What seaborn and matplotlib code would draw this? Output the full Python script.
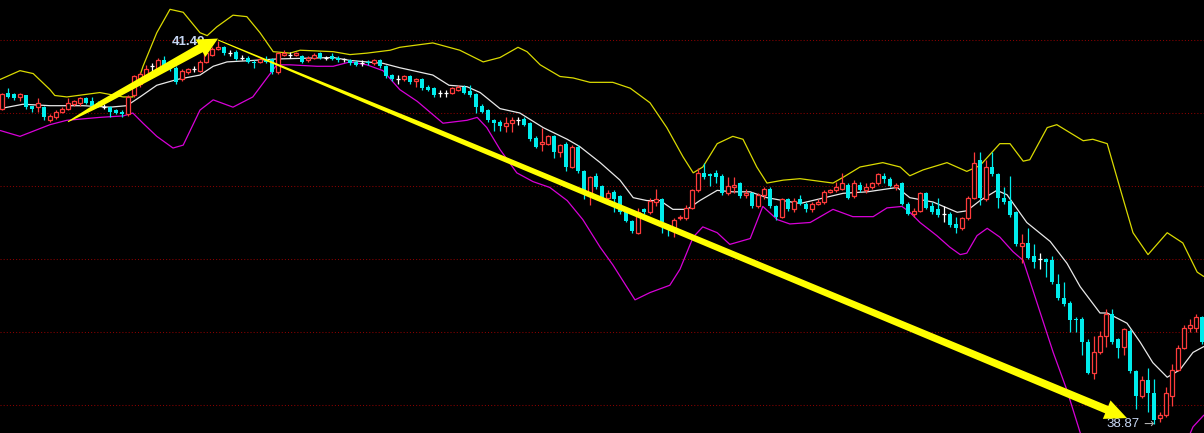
import numpy as np
import pandas as pd
import matplotlib
matplotlib.use("Agg")
import matplotlib.pyplot as plt
from matplotlib.patches import Polygon
from matplotlib.transforms import IdentityTransform
import seaborn as sns

# Daily candles (price units)
opens = [41.03, 41.14, 41.13, 41.11, 41.12, 41.05, 41.04, 41.04, 40.95, 40.97,
         41.01, 41.03, 41.06, 41.07, 41.10, 41.08, 41.07, 41.04, 41.04, 41.02,
         41.01, 40.99, 41.12, 41.20, 41.25, 41.32, 41.29, 41.36, 41.34, 41.31,
         41.23, 41.28, 41.30, 41.29, 41.35, 41.40, 41.44, 41.45, 41.41, 41.42,
         41.38, 41.38, 41.35, 41.35, 41.37, 41.37, 41.28, 41.40, 41.40, 41.40,
         41.39, 41.36, 41.38, 41.41, 41.38, 41.39, 41.38, 41.37, 41.36, 41.35,
         41.34, 41.35, 41.34, 41.36, 41.32, 41.26, 41.23, 41.23, 41.25, 41.22,
         41.23, 41.18, 41.17, 41.14, 41.14, 41.14, 41.16, 41.18, 41.15, 41.13,
         41.05, 41.02, 40.95, 40.94, 40.91, 40.93, 40.95, 40.96, 40.93, 40.83,
         40.79, 40.79, 40.84, 40.73, 40.79, 40.63, 40.77, 40.60, 40.45, 40.57,
         40.50, 40.42, 40.46, 40.43, 40.32, 40.26, 40.18, 40.34, 40.32, 40.39,
         40.41, 40.23, 40.20, 40.28, 40.28, 40.35, 40.47, 40.59, 40.58, 40.59,
         40.57, 40.45, 40.49, 40.52, 40.44, 40.45, 40.36, 40.44, 40.48, 40.36,
         40.29, 40.41, 40.34, 40.41, 40.38, 40.34, 40.38, 40.39, 40.46, 40.47,
         40.48, 40.51, 40.43, 40.51, 40.47, 40.49, 40.52, 40.57, 40.55, 40.49,
         40.52, 40.38, 40.31, 40.33, 40.45, 40.36, 40.34, 40.31, 40.31, 40.24,
         40.21, 40.28, 40.42, 40.68, 40.41, 40.63, 40.58, 40.42, 40.40, 40.32,
         40.09, 40.11, 40.02, 40.00, 40.00, 39.99, 39.83, 39.73, 39.70, 39.59,
         39.59, 39.43, 39.22, 39.36, 39.47, 39.62, 39.45, 39.40, 39.51, 39.23,
         39.06, 39.17, 39.08, 38.91, 38.93, 39.06, 39.24, 39.39, 39.53, 39.53,
         39.60]
highs = [41.14, 41.17, 41.14, 41.14, 41.12, 41.05, 41.10, 41.05, 40.99, 41.02,
         41.04, 41.10, 41.09, 41.11, 41.11, 41.11, 41.08, 41.06, 41.05, 41.03,
         41.02, 41.12, 41.26, 41.28, 41.33, 41.34, 41.38, 41.39, 41.35, 41.32,
         41.30, 41.31, 41.32, 41.36, 41.42, 41.45, 41.49, 41.46, 41.43, 41.43,
         41.40, 41.39, 41.36, 41.38, 41.39, 41.38, 41.42, 41.43, 41.42, 41.42,
         41.40, 41.39, 41.41, 41.42, 41.39, 41.41, 41.39, 41.38, 41.37, 41.36,
         41.36, 41.36, 41.37, 41.37, 41.33, 41.27, 41.26, 41.26, 41.26, 41.24,
         41.24, 41.19, 41.18, 41.16, 41.16, 41.18, 41.19, 41.19, 41.19, 41.14,
         41.06, 41.03, 40.96, 40.95, 40.97, 40.97, 40.97, 40.97, 40.94, 40.84,
         40.90, 40.85, 40.85, 40.79, 40.80, 40.78, 40.78, 40.61, 40.57, 40.59,
         40.51, 40.47, 40.47, 40.44, 40.33, 40.27, 40.35, 40.35, 40.42, 40.48,
         40.42, 40.24, 40.28, 40.30, 40.37, 40.48, 40.62, 40.66, 40.59, 40.61,
         40.58, 40.56, 40.56, 40.53, 40.48, 40.46, 40.45, 40.49, 40.49, 40.37,
         40.42, 40.42, 40.42, 40.44, 40.39, 40.39, 40.41, 40.47, 40.48, 40.53,
         40.59, 40.52, 40.54, 40.53, 40.52, 40.53, 40.59, 40.59, 40.56, 40.52,
         40.53, 40.39, 40.35, 40.46, 40.46, 40.39, 40.42, 40.36, 40.32, 40.29,
         40.29, 40.43, 40.73, 40.73, 40.68, 40.73, 40.59, 40.49, 40.57, 40.33,
         40.17, 40.21, 40.10, 40.04, 40.01, 40.02, 39.90, 39.84, 39.71, 39.60,
         39.60, 39.45, 39.47, 39.51, 39.66, 39.66, 39.46, 39.53, 39.52, 39.24,
         39.20, 39.25, 39.18, 38.95, 39.12, 39.28, 39.41, 39.55, 39.59, 39.62,
         39.61]
lows = [41.02, 41.10, 41.09, 41.08, 41.03, 41.01, 41.01, 40.95, 40.94, 40.96,
        41.00, 41.02, 41.05, 41.05, 41.06, 41.04, 41.04, 41.03, 40.97, 40.99,
        40.97, 40.98, 41.11, 41.18, 41.24, 41.29, 41.28, 41.31, 41.29, 41.20,
        41.22, 41.27, 41.28, 41.28, 41.34, 41.39, 41.43, 41.40, 41.39, 41.36,
        41.36, 41.34, 41.31, 41.34, 41.34, 41.27, 41.27, 41.39, 41.38, 41.39,
        41.34, 41.35, 41.37, 41.37, 41.36, 41.36, 41.35, 41.35, 41.33, 41.32,
        41.32, 41.33, 41.33, 41.31, 41.24, 41.22, 41.20, 41.22, 41.20, 41.18,
        41.16, 41.15, 41.11, 41.11, 41.11, 41.13, 41.15, 41.13, 41.11, 41.00,
        41.00, 40.94, 40.88, 40.88, 40.87, 40.87, 40.92, 40.91, 40.81, 40.76,
        40.74, 40.78, 40.69, 40.70, 40.60, 40.62, 40.59, 40.41, 40.37, 40.48,
        40.41, 40.40, 40.32, 40.31, 40.25, 40.18, 40.17, 40.31, 40.31, 40.36,
        40.18, 40.16, 40.15, 40.27, 40.27, 40.34, 40.46, 40.55, 40.50, 40.52,
        40.44, 40.44, 40.45, 40.42, 40.42, 40.35, 40.35, 40.41, 40.35, 40.27,
        40.28, 40.33, 40.32, 40.37, 40.32, 40.32, 40.37, 40.38, 40.45, 40.46,
        40.47, 40.41, 40.42, 40.46, 40.45, 40.48, 40.51, 40.52, 40.49, 40.47,
        40.37, 40.30, 40.29, 40.32, 40.34, 40.31, 40.29, 40.25, 40.22, 40.18,
        40.20, 40.27, 40.41, 40.37, 40.40, 40.57, 40.35, 40.38, 40.29, 40.09,
        39.97, 40.00, 39.94, 39.93, 39.88, 39.83, 39.72, 39.68, 39.50, 39.50,
        39.34, 39.21, 39.18, 39.35, 39.40, 39.42, 39.32, 39.34, 39.22, 38.97,
        39.05, 38.95, 38.87, 38.88, 38.92, 38.99, 39.23, 39.38, 39.50, 39.50,
        39.42]
closes = [41.13, 41.11, 41.10, 41.13, 41.04, 41.03, 41.07, 40.97, 40.98, 41.01,
          41.03, 41.07, 41.08, 41.10, 41.07, 41.05, 41.05, 41.04, 41.01, 41.00,
          40.99, 41.11, 41.25, 41.27, 41.30, 41.32, 41.36, 41.32, 41.30, 41.21,
          41.29, 41.30, 41.30, 41.35, 41.41, 41.44, 41.45, 41.41, 41.41, 41.37,
          41.38, 41.35, 41.34, 41.37, 41.35, 41.28, 41.41, 41.41, 41.40, 41.41,
          41.35, 41.38, 41.40, 41.38, 41.38, 41.37, 41.36, 41.37, 41.34, 41.33,
          41.34, 41.34, 41.36, 41.32, 41.25, 41.23, 41.23, 41.25, 41.21, 41.23,
          41.17, 41.16, 41.12, 41.14, 41.14, 41.17, 41.18, 41.14, 41.12, 41.04,
          41.01, 40.95, 40.93, 40.91, 40.93, 40.95, 40.95, 40.92, 40.82, 40.77,
          40.80, 40.84, 40.73, 40.78, 40.63, 40.77, 40.60, 40.45, 40.56, 40.49,
          40.42, 40.45, 40.41, 40.32, 40.26, 40.19, 40.32, 40.32, 40.40, 40.41,
          40.25, 40.21, 40.27, 40.29, 40.35, 40.47, 40.59, 40.56, 40.57, 40.56,
          40.45, 40.50, 40.51, 40.43, 40.45, 40.36, 40.44, 40.48, 40.36, 40.29,
          40.41, 40.34, 40.40, 40.38, 40.34, 40.38, 40.39, 40.46, 40.47, 40.49,
          40.52, 40.42, 40.52, 40.47, 40.49, 40.52, 40.58, 40.55, 40.50, 40.51,
          40.38, 40.31, 40.33, 40.45, 40.35, 40.32, 40.30, 40.31, 40.23, 40.21,
          40.28, 40.42, 40.66, 40.42, 40.63, 40.58, 40.42, 40.39, 40.30, 40.10,
          40.11, 40.01, 39.98, 40.00, 39.98, 39.84, 39.73, 39.69, 39.58, 39.58,
          39.43, 39.22, 39.36, 39.47, 39.62, 39.43, 39.39, 39.52, 39.23, 39.06,
          39.17, 39.08, 38.90, 38.93, 39.08, 39.24, 39.39, 39.53, 39.55, 39.60,
          39.43]

# Bollinger bands: (candle position, price)
upper_band = [(-0.3, 41.23), (3.0, 41.29), (5.2, 41.27), (8.0, 41.16), (8.8, 41.12),
              (10.8, 41.11), (16.3, 41.14), (20.2, 41.11), (21.8, 41.11), (23.5, 41.32),
              (25.8, 41.55), (28.0, 41.71), (30.2, 41.69), (33.0, 41.55), (34.2, 41.53),
              (35.8, 41.59), (38.5, 41.67), (40.8, 41.66), (43.0, 41.55), (45.2, 41.42),
              (48.0, 41.41), (49.7, 41.43), (55.2, 41.42), (58.0, 41.40), (60.8, 41.41),
              (64.7, 41.43), (66.3, 41.45), (71.8, 41.48), (76.3, 41.43), (80.2, 41.35),
              (83.0, 41.38), (86.0, 41.45), (87.5, 41.42), (89.7, 41.33), (93.0, 41.25),
              (95.2, 41.24), (98.0, 41.21), (101.8, 41.21), (104.7, 41.17), (108.0, 41.07),
              (110.8, 40.90), (113.5, 40.70), (115.2, 40.59), (116.8, 40.63), (119.2, 40.79),
              (121.8, 40.84), (123.5, 40.82), (125.8, 40.63), (127.5, 40.52), (130.2, 40.54),
              (133.0, 40.55), (138.5, 40.52), (140.2, 40.56), (143.0, 40.63), (146.8, 40.66),
              (149.7, 40.63), (151.3, 40.57), (153.5, 40.61), (157.5, 40.66), (160.8, 40.60),
              (163.0, 40.64), (166.3, 40.79), (168.0, 40.79), (170.2, 40.67), (171.3, 40.68),
              (174.2, 40.90), (175.8, 40.92), (180.2, 40.81), (181.8, 40.82), (184.2, 40.79),
              (186.3, 40.49), (188.5, 40.18), (191.0, 40.03), (194.2, 40.18), (196.8, 40.11),
              (199.2, 39.91), (200.3, 39.88)]
middle_band = [(-0.3, 41.03), (3.5, 41.06), (8.0, 41.05), (13.5, 41.05), (18.0, 41.04),
               (20.8, 41.05), (23.0, 41.11), (25.8, 41.19), (29.2, 41.23), (33.0, 41.26),
               (35.2, 41.32), (37.5, 41.35), (41.8, 41.36), (45.8, 41.37), (55.2, 41.38),
               (58.0, 41.36), (63.5, 41.34), (66.3, 41.31), (71.8, 41.26), (74.5, 41.19),
               (77.5, 41.18), (79.7, 41.14), (83.0, 41.03), (86.3, 41.00), (90.2, 40.90),
               (94.2, 40.82), (96.3, 40.77), (99.7, 40.66), (103.0, 40.54), (105.2, 40.42),
               (107.5, 40.40), (109.7, 40.40), (111.8, 40.34), (114.2, 40.34), (116.3, 40.40),
               (119.2, 40.47), (121.8, 40.46), (124.7, 40.46), (127.5, 40.42), (130.2, 40.40),
               (133.0, 40.38), (140.2, 40.45), (144.2, 40.46), (149.2, 40.49), (151.3, 40.42),
               (155.2, 40.39), (159.2, 40.32), (160.8, 40.33), (163.0, 40.40), (165.8, 40.47),
               (167.5, 40.44), (170.8, 40.25), (174.7, 40.12), (177.5, 39.97), (179.7, 39.81),
               (183.0, 39.63), (184.2, 39.63), (187.5, 39.56), (189.7, 39.43), (191.8, 39.29),
               (194.2, 39.19), (196.3, 39.24), (198.5, 39.36), (200.3, 39.40)]
lower_band = [(-0.3, 40.88), (3.0, 40.84), (8.0, 40.92), (10.8, 40.95), (16.3, 40.97),
              (20.2, 40.98), (21.8, 41.00), (23.5, 40.93), (25.8, 40.84), (28.5, 40.76),
              (30.2, 40.78), (33.0, 41.02), (35.2, 41.09), (38.5, 41.04), (41.8, 41.11),
              (45.8, 41.33), (48.0, 41.33), (52.5, 41.32), (55.2, 41.32), (58.0, 41.35),
              (60.8, 41.33), (63.5, 41.29), (66.3, 41.16), (69.2, 41.08), (73.5, 40.93),
              (77.5, 40.95), (79.2, 40.97), (80.8, 40.90), (83.0, 40.75), (85.8, 40.59),
              (88.5, 40.53), (91.3, 40.49), (94.2, 40.40), (96.8, 40.27), (99.7, 40.08),
              (101.8, 39.96), (105.5, 39.72), (108.0, 39.77), (111.3, 39.82), (113.0, 39.93),
              (115.2, 40.15), (116.8, 40.22), (119.2, 40.18), (121.3, 40.10), (124.7, 40.14),
              (126.8, 40.36), (129.2, 40.27), (131.3, 40.24), (134.7, 40.25), (138.5, 40.34),
              (141.8, 40.29), (145.2, 40.29), (147.5, 40.35), (150.0, 40.36), (151.3, 40.32),
              (153.0, 40.25), (155.8, 40.16), (158.0, 40.08), (159.7, 40.03), (160.8, 40.04),
              (162.5, 40.16), (164.2, 40.21), (166.3, 40.15), (168.5, 40.05), (170.2, 39.99),
              (172.5, 39.70), (175.2, 39.36), (177.5, 39.10), (179.7, 38.81), (184.7, 38.35),
              (189.7, 38.21), (194.7, 38.49), (198.5, 38.85), (200.3, 38.93)]

grid_levels = [41.5, 41.0, 40.5, 40.0, 39.5, 39.0]
high_label = "41.49"
low_label = "38.87"

RED = "#ff3b3b"
CYAN = "#00ecec"
LABEL = "#c6d6f2"

sns.set_style("dark", {"axes.facecolor": "black", "figure.facecolor": "black"})

fig = plt.figure(figsize=(12.04, 4.33), dpi=100)
ax = fig.add_axes([0, 0, 1, 1])
ax.set_facecolor("black")
ax.set_xlim(-1 / 3, 200 + 1 / 3)
ax.set_ylim(38.808, 41.774)
ax.set_axis_off()

for lv in grid_levels:
    ax.axhline(lv, color="#8a0000", lw=0.75, ls=(0, (1, 2)), zorder=0)

# bands
for band, col in [(upper_band, "#dada00"), (middle_band, "#e8e8e8"), (lower_band, "#d800d8")]:
    bx, by = zip(*band)
    sns.lineplot(x=list(bx), y=list(by), ax=ax, color=col, lw=0.9, zorder=1)

# candles
df = pd.DataFrame({"open": opens, "high": highs, "low": lows, "close": closes})
df["idx"] = np.arange(len(df))
up = df[df.close > df.open]
down = df[df.close < df.open]
flat = df[df.close == df.open]

ax.vlines(down.idx, down.low, down.high, color=CYAN, lw=0.9, zorder=2)
ax.bar(down.idx, down.open - down.close, bottom=down.close, width=0.76,
       color=CYAN, linewidth=0, zorder=3)

ax.vlines(up.idx, up.close, up.high, color=RED, lw=0.9, zorder=2)
ax.vlines(up.idx, up.low, up.open, color=RED, lw=0.9, zorder=2)
ax.bar(up.idx, up.close - up.open, bottom=up.open, width=0.66,
       facecolor="black", edgecolor=RED, linewidth=0.9, zorder=3)

ax.vlines(flat.idx, flat.low, flat.high, color="white", lw=0.9, zorder=2)
ax.hlines(flat.open, flat.idx - 0.4, flat.idx + 0.4, color="white", lw=0.9, zorder=3)

# price labels
i_hi = int(np.argmax(highs))
i_lo = int(np.argmin(lows))
ax.annotate(high_label, xy=(i_hi, highs[i_hi]), xytext=(-13, -1), textcoords="offset pixels",
            ha="right", va="center", color=LABEL, fontsize=9.5, fontweight="bold",
            family="Liberation Sans", zorder=4)
ax.annotate("\u2192", xy=(i_lo, lows[i_lo]), xytext=(0, 0), textcoords="offset pixels",
            ha="right", va="center", color="#b0b0b0", fontsize=9, zorder=4)
ax.annotate(low_label, xy=(i_lo, lows[i_lo]), xytext=(-14, 0), textcoords="offset pixels",
            ha="right", va="center", color=LABEL, fontsize=9.5,
            family="Liberation Sans", zorder=4)


def taper_arrow(start, tip, widths, head_w, head_l, color="#ffff00"):
    # widths: (tail, mid, shaft end) in pixels, mid at 25% of length
    p0 = ax.transData.transform(start)
    p1 = ax.transData.transform(tip)
    d = p1 - p0
    u = d / np.hypot(*d)
    n = np.array([-u[1], u[0]])
    b = p1 - u * head_l
    m = p0 + (b - p0) * 0.25
    w0, wm, w1 = widths
    verts = [p0 + n * w0 / 2, m + n * wm / 2, b + n * w1 / 2, b + n * head_w / 2, p1,
             b - n * head_w / 2, b - n * w1 / 2, m - n * wm / 2, p0 - n * w0 / 2]
    ax.add_patch(Polygon(verts, closed=True, facecolor=color, edgecolor="none",
                         transform=IdentityTransform(), zorder=6))


taper_arrow((11.0, 40.94), (36.0, 41.51), (1.0, 5.5, 9.0), 20, 20)
taper_arrow((36.0, 41.50), (187.5, 38.91), (1.0, 5.0, 8.0), 20, 22)

fig.savefig("out.png", dpi=100, facecolor="black")
